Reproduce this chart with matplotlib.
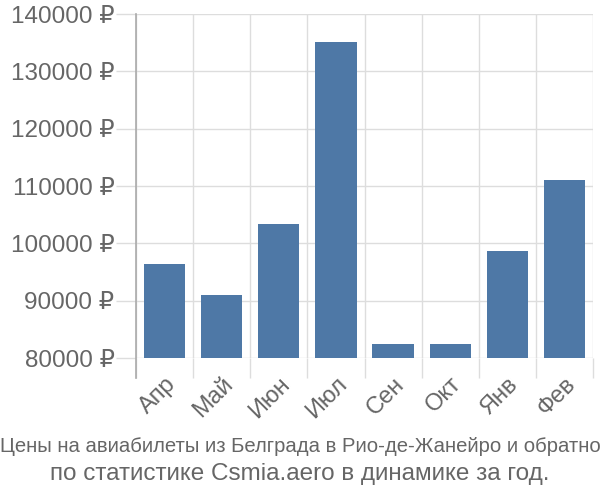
import matplotlib.pyplot as plt
import numpy as np

plt.rcParams['font.family'] = ['Liberation Sans', 'DejaVu Sans']

months = ['Апр', 'Май', 'Июн', 'Июл', 'Сен', 'Окт', 'Янв', 'Фев']
prices = [96400, 91000, 103400, 135100, 82400, 82400, 98700, 111100]
yticks = [80000, 90000, 100000, 110000, 120000, 130000, 140000]

bar_color = '#4e78a6'
text_color = '#666666'
grid_color = '#dddddd'

fig = plt.figure(figsize=(6, 5), dpi=100)
ax = fig.add_axes([136 / 600, 1 - 358 / 500, 457 / 600, 344 / 500])

x = np.arange(len(months))
ax.bar(x, prices, width=0.72, color=bar_color, zorder=3)

ax.set_xlim(-0.5, len(months) - 0.5)
ax.set_ylim(80000, 140000)

ax.set_yticks(yticks)
ax.set_yticklabels([f'{v} ₽' for v in yticks])
ax.set_xticks(x)
ax.set_xticklabels(months, rotation=45, ha='right', va='top', rotation_mode='anchor')
ax.set_xticks(np.arange(len(months) + 1) - 0.5, minor=True)

ax.tick_params(axis='y', length=14.4, width=1, color=grid_color, labelcolor=text_color,
               labelsize=17.5, pad=1)
ax.tick_params(axis='x', which='major', length=0, labelcolor=text_color, labelsize=17, pad=11)
ax.tick_params(axis='x', which='minor', length=14.4, width=1, color=grid_color)

ax.grid(True, axis='y', color=grid_color, linewidth=1, zorder=0)
ax.grid(True, axis='x', which='minor', color=grid_color, linewidth=1, zorder=0)

for s in ['top', 'right', 'bottom', 'left']:
    ax.spines[s].set_visible(False)
ax.plot([0, 0], [1, -20 / 344], transform=ax.transAxes, color='#aaaaaa',
        linewidth=1.2, clip_on=False, zorder=4)

fig.text(0.5, 1 - 447 / 500, 'Цены на авиабилеты из Белграда в Рио-де-Жанейро и обратно',
         ha='center', va='center', color=text_color, fontsize=14.6)
fig.text(0.5, 1 - 474 / 500, 'по статистике Csmia.aero в динамике за год.',
         ha='center', va='center', color=text_color, fontsize=17.5)

plt.savefig('out.png', dpi=100)
